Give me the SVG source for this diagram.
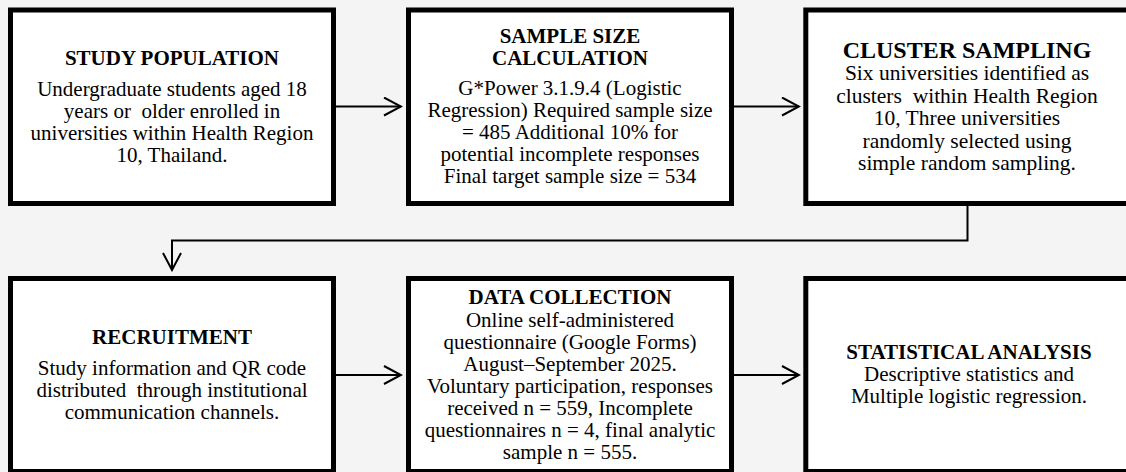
<svg xmlns="http://www.w3.org/2000/svg" width="1126" height="472" viewBox="0 0 1126 472">
<defs>
<style>
.box{fill:#ffffff;stroke:#000000;stroke-width:5}
.conn{fill:none;stroke:#000000;stroke-width:2}
text{font-family:"Liberation Serif","Times New Roman",serif;fill:#000000;text-anchor:middle;white-space:pre}
.t{font-size:21px;font-weight:bold}
.b{font-size:21px}
.t3{font-size:24px;font-weight:bold}
.b3{font-size:21.5px}
</style>
<marker id="arr" viewBox="0 0 20 20" markerWidth="20" markerHeight="20" refX="18" refY="10" orient="auto" markerUnits="userSpaceOnUse">
<path d="M1,1 L18,10 L1,19" fill="none" stroke="#000000" stroke-width="2"/>
</marker>
</defs>
<rect x="0" y="0" width="1126" height="472" fill="#f4f4f4"/>

<g id="connectors">
<line class="conn" x1="336" y1="106.5" x2="401" y2="106.5" marker-end="url(#arr)"/>
<line class="conn" x1="734" y1="106.5" x2="799" y2="106.5" marker-end="url(#arr)"/>
<path class="conn" d="M967.5,206 V240.5 H172 V270" marker-end="url(#arr)"/>
<line class="conn" x1="336" y1="375" x2="401" y2="375" marker-end="url(#arr)"/>
<line class="conn" x1="734" y1="375" x2="799" y2="375" marker-end="url(#arr)"/>
</g>

<g id="study-population">
<rect class="box" x="10.5" y="10" width="323" height="193.5"/>
<text class="t" x="172" y="65">STUDY POPULATION</text>
<text class="b" x="172" y="96">Undergraduate students aged 18</text>
<text class="b" x="172" y="118">years or  older enrolled in</text>
<text class="b" x="172" y="140">universities within Health Region</text>
<text class="b" x="172" y="162">10, Thailand.</text>
</g>

<g id="sample-size">
<rect class="box" x="408.5" y="10" width="323" height="193.5"/>
<text class="t" x="570" y="42.5">SAMPLE SIZE</text>
<text class="t" x="570" y="64.5">CALCULATION</text>
<text class="b" x="570" y="95">G*Power 3.1.9.4 (Logistic</text>
<text class="b" x="570" y="117">Regression) Required sample size</text>
<text class="b" x="570" y="139">= 485 Additional 10% for</text>
<text class="b" x="570" y="161">potential incomplete responses</text>
<text class="b" x="570" y="183">Final target sample size = 534</text>
</g>

<g id="cluster-sampling">
<rect class="box" x="805.8" y="10" width="323" height="193.5"/>
<text class="t3" x="967" y="57.5">CLUSTER SAMPLING</text>
<text class="b3" x="967" y="80">Six universities identified as</text>
<text class="b3" x="967" y="102.5">clusters  within Health Region</text>
<text class="b3" x="967" y="125">10, Three universities</text>
<text class="b3" x="967" y="147.5">randomly selected using</text>
<text class="b3" x="967" y="170">simple random sampling.</text>
</g>

<g id="recruitment">
<rect class="box" x="10.5" y="278.5" width="323" height="193"/>
<text class="t" x="172" y="344">RECRUITMENT</text>
<text class="b" x="172" y="375">Study information and QR code</text>
<text class="b" x="172" y="397">distributed  through institutional</text>
<text class="b" x="172" y="419">communication channels.</text>
</g>

<g id="data-collection">
<rect class="box" x="408.5" y="278.5" width="323" height="193"/>
<text class="t" x="570" y="304">DATA COLLECTION</text>
<text class="b" x="570" y="327">Online self-administered</text>
<text class="b" x="570" y="349">questionnaire (Google Forms)</text>
<text class="b" x="570" y="371">August–September 2025.</text>
<text class="b" x="570" y="393">Voluntary participation, responses</text>
<text class="b" x="570" y="415">received n = 559, Incomplete</text>
<text class="b" x="570" y="437">questionnaires n = 4, final analytic</text>
<text class="b" x="570" y="459">sample n = 555.</text>
</g>

<g id="statistical-analysis">
<rect class="box" x="805.8" y="278.5" width="323" height="193"/>
<text class="t" x="969" y="359">STATISTICAL ANALYSIS</text>
<text class="b" x="969" y="381">Descriptive statistics and</text>
<text class="b" x="969" y="403">Multiple logistic regression.</text>
</g>
</svg>
